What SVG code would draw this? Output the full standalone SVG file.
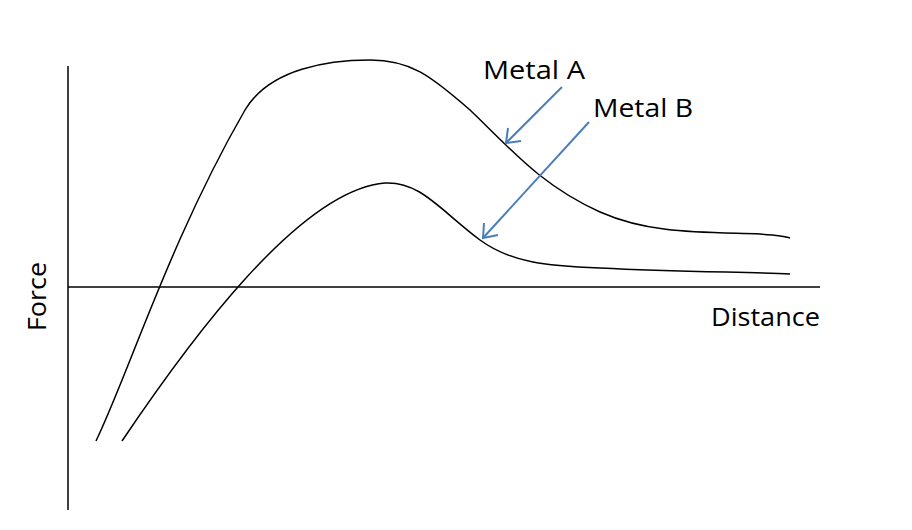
<svg xmlns="http://www.w3.org/2000/svg" width="912" height="530" viewBox="0 0 912 530">
<style>
.ax{stroke:#000;stroke-width:1.5;fill:none}
.cv{stroke:#000;stroke-width:1.5;fill:none}
.ar{stroke:#4a7ebb;stroke-width:2;fill:none}
text{font-family:"Open Sans","Liberation Sans",sans-serif;font-size:25px;fill:#000}
</style>
<rect width="912" height="530" fill="#fff"/>
<g id="axes">
<line class="ax" x1="68" y1="66" x2="68" y2="510"/>
<line class="ax" x1="68" y1="287" x2="820" y2="287"/>
<text x="711" y="326" textLength="109" lengthAdjust="spacingAndGlyphs">Distance</text>
<text transform="translate(46,331) rotate(-90)" textLength="69" lengthAdjust="spacingAndGlyphs">Force</text>
</g>
<g id="metalA">
<path class="cv" d="M96,441 C130,370 170,240 245,110 C270,68 330,60 370,60 C410,60 430,75 470,110 C510,148 540,185 600,212 C650,234 700,232 760,234 C775,235 785,236 790,238"/>
<text x="483" y="79" textLength="102" lengthAdjust="spacingAndGlyphs">Metal A</text>
</g>
<g id="metalB">
<path class="cv" d="M122,441 C190,340 300,190 385,183 C420,181 440,210 480,240 C510,262 545,266 600,268 C680,272 750,272 790,274"/>
<text x="593" y="117" textLength="100" lengthAdjust="spacingAndGlyphs">Metal B</text>
</g>
<g id="connectors">
<line class="ar" x1="562" y1="87" x2="506" y2="143"/>
<polyline class="ar" points="508,128 506,143 521,141"/>
<line class="ar" x1="589" y1="122" x2="483" y2="238"/>
<polyline class="ar" points="484,223 483,238 498,235"/>
</g>
</svg>
